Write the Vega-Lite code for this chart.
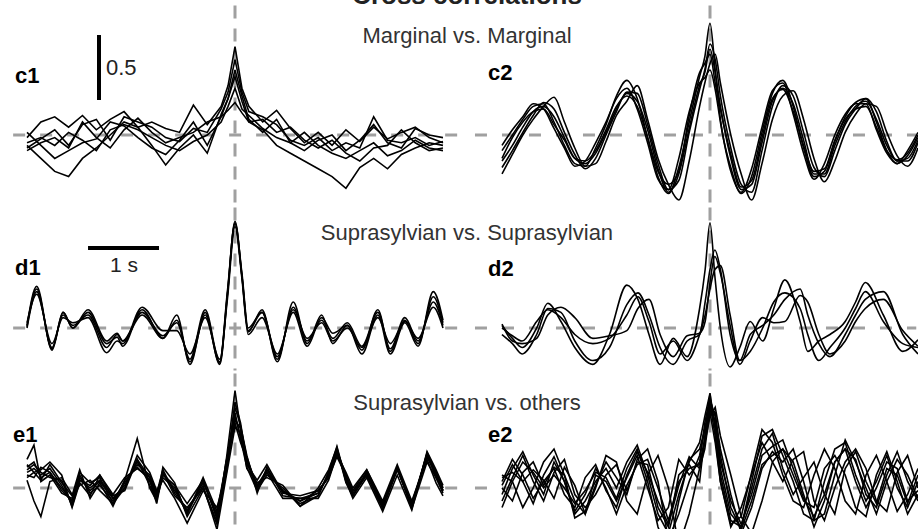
{
"$schema": "https://vega.github.io/schema/vega-lite/v6.json",
"padding": 0,
"spacing": 0,
"background": "white",
"config": {"view": {"stroke": null}, "axis": {"disable": true}, "font": "Liberation Sans"},
"datasets": {
"panels": [
{"panel":"top","label":"Cross correlations","row":"","bar":""},
{"panel":"c1","label":"c1","row":"Marginal vs. Marginal","bar":"0.5"},
{"panel":"c2","label":"c2","row":"","bar":""},
{"panel":"d1","label":"d1","row":"Suprasylvian vs. Suprasylvian","bar":"1 s"},
{"panel":"d2","label":"d2","row":"","bar":""},
{"panel":"e1","label":"e1","row":"Suprasylvian vs. others","bar":""},
{"panel":"e2","label":"e2","row":"","bar":""}
],
"c1": [
{"x":-3,"a":-0.02,"b":-0.1,"c":0.02,"d":-0.08,"e":-0.06,"f":-0.12},
{"x":-2.8,"a":0.1,"b":-0.03,"c":-0.08,"d":-0.18,"e":-0.02,"f":-0.06},
{"x":-2.6,"a":0.14,"b":0.04,"c":-0.18,"d":-0.28,"e":-0.08,"f":-0.02},
{"x":-2.4,"a":0.06,"b":-0.08,"c":-0.12,"d":-0.32,"e":0.02,"f":-0.1},
{"x":-2.2,"a":0.15,"b":0.08,"c":-0.06,"d":-0.18,"e":-0.04,"f":0.1},
{"x":-2,"a":0.04,"b":0.12,"c":-0.03,"d":-0.1,"e":-0.12,"f":-0.02},
{"x":-1.8,"a":0.12,"b":-0.04,"c":0.1,"d":0,"e":0.04,"f":-0.1},
{"x":-1.6,"a":0.18,"b":0.14,"c":0.07,"d":0.1,"e":0.08,"f":0.04},
{"x":-1.4,"a":0.06,"b":0.1,"c":-0.02,"d":0.06,"e":0.04,"f":0.13},
{"x":-1.2,"a":0.1,"b":0.06,"c":-0.1,"d":-0.08,"e":-0.02,"f":0.02},
{"x":-1,"a":0.05,"b":-0.02,"c":-0.15,"d":-0.23,"e":-0.08,"f":-0.06},
{"x":-0.8,"a":0.02,"b":-0.05,"c":-0.04,"d":-0.1,"e":-0.12,"f":-0.02},
{"x":-0.6,"a":0.23,"b":0.05,"c":0.1,"d":0,"e":-0.05,"f":0.02},
{"x":-0.4,"a":0.08,"b":0.02,"c":-0.08,"d":-0.14,"e":0,"f":0.1},
{"x":-0.2,"a":0.22,"b":0.2,"c":0.14,"d":0.16,"e":0.1,"f":0.14},
{"x":-0.1,"a":0.38,"b":0.33,"c":0.28,"d":0.28,"e":0.22,"f":0.19},
{"x":0,"a":0.68,"b":0.58,"c":0.5,"d":0.45,"e":0.36,"f":0.25},
{"x":0.1,"a":0.36,"b":0.33,"c":0.3,"d":0.26,"e":0.2,"f":0.17},
{"x":0.2,"a":0.22,"b":0.18,"c":0.12,"d":0.1,"e":0.15,"f":0.1},
{"x":0.4,"a":0.1,"b":0.14,"c":0.02,"d":0.04,"e":0.05,"f":0.12},
{"x":0.6,"a":0.19,"b":0.08,"c":0.12,"d":-0.08,"e":-0.02,"f":0.02},
{"x":0.8,"a":0.05,"b":-0.04,"c":-0.06,"d":-0.14,"e":-0.06,"f":0.06},
{"x":1,"a":-0.06,"b":-0.08,"c":-0.12,"d":-0.2,"e":0.02,"f":-0.04},
{"x":1.2,"a":0.02,"b":-0.02,"c":-0.04,"d":-0.26,"e":-0.08,"f":-0.1},
{"x":1.4,"a":-0.08,"b":-0.12,"c":0,"d":-0.32,"e":-0.14,"f":-0.04},
{"x":1.6,"a":0.04,"b":-0.06,"c":-0.12,"d":-0.41,"e":-0.18,"f":-0.14},
{"x":1.8,"a":-0.05,"b":-0.1,"c":-0.04,"d":-0.25,"e":-0.12,"f":-0.2},
{"x":2,"a":0.06,"b":0.14,"c":0.08,"d":-0.18,"e":-0.06,"f":-0.1},
{"x":2.2,"a":-0.03,"b":-0.04,"c":-0.06,"d":-0.26,"e":-0.16,"f":-0.08},
{"x":2.4,"a":0.02,"b":-0.06,"c":-0.1,"d":-0.15,"e":-0.12,"f":0.04},
{"x":2.6,"a":0.06,"b":-0.02,"c":0.05,"d":-0.1,"e":-0.04,"f":-0.06},
{"x":2.8,"a":-0.02,"b":-0.08,"c":0,"d":-0.06,"e":-0.1,"f":-0.12},
{"x":3,"a":-0.06,"b":-0.05,"c":-0.02,"d":-0.08,"e":-0.12,"f":-0.1}
],
"c2": [
{"x":-3,"a":-0.12,"b":-0.25,"c":-0.18,"d":-0.3,"e":-0.08,"f":-0.2},
{"x":-2.85,"a":0,"b":-0.12,"c":-0.02,"d":-0.15,"e":0.04,"f":-0.08},
{"x":-2.7,"a":0.12,"b":0.02,"c":0.1,"d":0,"e":0.14,"f":0.06},
{"x":-2.55,"a":0.22,"b":0.15,"c":0.18,"d":0.12,"e":0.24,"f":0.18},
{"x":-2.4,"a":0.24,"b":0.25,"c":0.2,"d":0.22,"e":0.2,"f":0.22},
{"x":-2.25,"a":0.1,"b":0.2,"c":0.08,"d":0.29,"e":0.05,"f":0.14},
{"x":-2.1,"a":-0.08,"b":0.02,"c":-0.04,"d":0.1,"e":-0.1,"f":-0.02},
{"x":-1.95,"a":-0.22,"b":-0.15,"c":-0.18,"d":-0.1,"e":-0.24,"f":-0.18},
{"x":-1.8,"a":-0.24,"b":-0.26,"c":-0.2,"d":-0.24,"e":-0.2,"f":-0.22},
{"x":-1.65,"a":-0.1,"b":-0.18,"c":-0.12,"d":-0.22,"e":-0.06,"f":-0.14},
{"x":-1.5,"a":0.08,"b":0,"c":0.04,"d":-0.05,"e":0.1,"f":0.02},
{"x":-1.35,"a":0.3,"b":0.18,"c":0.22,"d":0.15,"e":0.28,"f":0.2},
{"x":-1.2,"a":0.42,"b":0.33,"c":0.3,"d":0.26,"e":0.36,"f":0.32},
{"x":-1.05,"a":0.28,"b":0.32,"c":0.22,"d":0.38,"e":0.2,"f":0.26},
{"x":-0.9,"a":-0.02,"b":0.08,"c":-0.02,"d":0.12,"e":-0.06,"f":0.04},
{"x":-0.75,"a":-0.32,"b":-0.22,"c":-0.28,"d":-0.18,"e":-0.34,"f":-0.26},
{"x":-0.6,"a":-0.45,"b":-0.42,"c":-0.38,"d":-0.38,"e":-0.42,"f":-0.44},
{"x":-0.45,"a":-0.25,"b":-0.35,"c":-0.28,"d":-0.5,"e":-0.18,"f":-0.3},
{"x":-0.3,"a":0.1,"b":0.02,"c":0.15,"d":-0.2,"e":0.18,"f":0.05},
{"x":-0.15,"a":0.45,"b":0.35,"c":0.48,"d":0.22,"e":0.4,"f":0.38},
{"x":-0.075,"a":0.6,"b":0.5,"c":0.55,"d":0.4,"e":0.44,"f":0.48},
{"x":0,"a":0.86,"b":0.7,"c":0.62,"d":0.55,"e":0.5,"f":0.66},
{"x":0.075,"a":0.5,"b":0.58,"c":0.4,"d":0.62,"e":0.35,"f":0.48},
{"x":0.15,"a":0.12,"b":0.3,"c":0.2,"d":0.4,"e":0.1,"f":0.22},
{"x":0.3,"a":-0.25,"b":-0.1,"c":-0.15,"d":0,"e":-0.28,"f":-0.18},
{"x":0.45,"a":-0.45,"b":-0.38,"c":-0.4,"d":-0.3,"e":-0.44,"f":-0.42},
{"x":0.6,"a":-0.32,"b":-0.44,"c":-0.35,"d":-0.5,"e":-0.26,"f":-0.38},
{"x":0.75,"a":0.02,"b":-0.12,"c":-0.02,"d":-0.22,"e":0.06,"f":-0.06},
{"x":0.9,"a":0.32,"b":0.22,"c":0.28,"d":0.12,"e":0.34,"f":0.26},
{"x":1.05,"a":0.42,"b":0.38,"c":0.35,"d":0.3,"e":0.4,"f":0.36},
{"x":1.2,"a":0.22,"b":0.3,"c":0.18,"d":0.34,"e":0.16,"f":0.24},
{"x":1.35,"a":-0.1,"b":0.02,"c":-0.08,"d":0.12,"e":-0.14,"f":-0.04},
{"x":1.5,"a":-0.32,"b":-0.25,"c":-0.28,"d":-0.18,"e":-0.34,"f":-0.3},
{"x":1.65,"a":-0.28,"b":-0.32,"c":-0.26,"d":-0.36,"e":-0.22,"f":-0.3},
{"x":1.8,"a":-0.05,"b":-0.12,"c":-0.04,"d":-0.2,"e":0,"f":-0.08},
{"x":1.95,"a":0.14,"b":0.08,"c":0.12,"d":0.02,"e":0.16,"f":0.1},
{"x":2.1,"a":0.25,"b":0.2,"c":0.2,"d":0.16,"e":0.24,"f":0.22},
{"x":2.25,"a":0.28,"b":0.28,"c":0.22,"d":0.24,"e":0.24,"f":0.26},
{"x":2.4,"a":0.1,"b":0.18,"c":0.06,"d":0.22,"e":0.04,"f":0.12},
{"x":2.55,"a":-0.12,"b":-0.05,"c":-0.12,"d":0.02,"e":-0.14,"f":-0.08},
{"x":2.7,"a":-0.22,"b":-0.2,"c":-0.19,"d":-0.16,"e":-0.22,"f":-0.2},
{"x":2.85,"a":-0.16,"b":-0.2,"c":-0.14,"d":-0.24,"e":-0.12,"f":-0.18},
{"x":3,"a":-0.02,"b":-0.06,"c":0,"d":-0.1,"e":0.02,"f":-0.04}
],
"d1": [
{"x":-3,"a":0.02,"b":0,"c":0.04,"d":0.01},
{"x":-2.86,"a":0.32,"b":0.28,"c":0.26,"d":0.3},
{"x":-2.64,"a":-0.17,"b":-0.15,"c":-0.12,"d":-0.16},
{"x":-2.48,"a":0.12,"b":0.1,"c":0.08,"d":0.12},
{"x":-2.34,"a":0,"b":0.02,"c":0.04,"d":0},
{"x":-2.12,"a":0.12,"b":0.1,"c":0.08,"d":0.14},
{"x":-1.85,"a":-0.12,"b":-0.15,"c":-0.19,"d":-0.1},
{"x":-1.7,"a":-0.07,"b":-0.05,"c":-0.1,"d":-0.04},
{"x":-1.62,"a":-0.14,"b":-0.1,"c":-0.12,"d":-0.1},
{"x":-1.34,"a":0.14,"b":0.12,"c":0.16,"d":0.1},
{"x":-1.04,"a":-0.08,"b":-0.06,"c":-0.02,"d":-0.08},
{"x":-0.84,"a":0.1,"b":0.04,"c":-0.02,"d":0.06},
{"x":-0.65,"a":-0.28,"b":-0.24,"c":-0.2,"d":-0.26},
{"x":-0.43,"a":0.12,"b":0.14,"c":0.08,"d":0.1},
{"x":-0.22,"a":-0.28,"b":-0.26,"c":-0.24,"d":-0.27},
{"x":-0.11,"a":0.25,"b":0.28,"c":0.22,"d":0.26},
{"x":0,"a":0.82,"b":0.8,"c":0.78,"d":0.81},
{"x":0.1,"a":0.4,"b":0.42,"c":0.38,"d":0.4},
{"x":0.19,"a":-0.03,"b":0,"c":-0.05,"d":-0.02},
{"x":0.39,"a":0.14,"b":0.12,"c":0.08,"d":0.12},
{"x":0.61,"a":-0.26,"b":-0.24,"c":-0.2,"d":-0.22},
{"x":0.84,"a":0.2,"b":0.16,"c":0.12,"d":0.14},
{"x":1.04,"a":-0.12,"b":-0.1,"c":-0.14,"d":-0.08},
{"x":1.25,"a":0.1,"b":0.06,"c":0.08,"d":0.04},
{"x":1.41,"a":-0.12,"b":-0.08,"c":-0.04,"d":-0.1},
{"x":1.62,"a":0.02,"b":0.04,"c":0.02,"d":0},
{"x":1.83,"a":-0.17,"b":-0.14,"c":-0.2,"d":-0.15},
{"x":2.06,"a":0.14,"b":0.12,"c":0.1,"d":0.08},
{"x":2.24,"a":-0.18,"b":-0.16,"c":-0.2,"d":-0.12},
{"x":2.45,"a":0.06,"b":0.08,"c":0.04,"d":0.05},
{"x":2.64,"a":-0.12,"b":-0.1,"c":-0.14,"d":-0.08},
{"x":2.86,"a":0.24,"b":0.2,"c":0.28,"d":0.16},
{"x":3,"a":0.04,"b":0.02,"c":0.06,"d":0}
],
"d2": [
{"x":-3,"a":0.02,"b":-0.05,"c":0,"d":0.03},
{"x":-2.85,"a":-0.08,"b":-0.12,"c":-0.06,"d":-0.1},
{"x":-2.71,"a":-0.15,"b":-0.2,"c":-0.1,"d":-0.12},
{"x":-2.5,"a":0,"b":-0.05,"c":0.05,"d":-0.08},
{"x":-2.34,"a":0.19,"b":0.15,"c":0.14,"d":0.1},
{"x":-2.15,"a":0.05,"b":0.12,"c":0.08,"d":0.16},
{"x":-1.95,"a":-0.15,"b":-0.1,"c":-0.05,"d":0.08},
{"x":-1.69,"a":-0.28,"b":-0.25,"c":-0.12,"d":-0.08},
{"x":-1.45,"a":-0.05,"b":-0.15,"c":-0.08,"d":-0.06},
{"x":-1.2,"a":0.33,"b":0.18,"c":0.1,"d":-0.02},
{"x":-1.04,"a":0.22,"b":0.27,"c":0.24,"d":0.15},
{"x":-0.88,"a":-0.05,"b":0.1,"c":0.05,"d":0.22},
{"x":-0.72,"a":-0.28,"b":-0.15,"c":-0.2,"d":-0.05},
{"x":-0.53,"a":-0.08,"b":-0.28,"c":-0.1,"d":-0.22},
{"x":-0.33,"a":-0.22,"b":-0.1,"c":-0.25,"d":-0.06},
{"x":-0.15,"a":0.15,"b":-0.05,"c":-0.05,"d":-0.04},
{"x":-0.07,"a":0.45,"b":0.2,"c":0.1,"d":0.05},
{"x":0,"a":0.81,"b":0.45,"c":0.3,"d":0.35},
{"x":0.07,"a":0.4,"b":0.6,"c":0.45,"d":0.55},
{"x":0.15,"a":0,"b":0.45,"c":0.48,"d":0.42},
{"x":0.29,"a":-0.3,"b":-0.05,"c":0.1,"d":0.02},
{"x":0.43,"a":-0.15,"b":-0.25,"c":-0.25,"d":-0.28},
{"x":0.58,"a":0.05,"b":-0.18,"c":-0.05,"d":-0.1},
{"x":0.76,"a":-0.1,"b":0,"c":0.02,"d":0.08},
{"x":0.92,"a":0.15,"b":0.2,"c":0.1,"d":0.04},
{"x":1.08,"a":0.37,"b":0.27,"c":0.22,"d":0.05},
{"x":1.3,"a":0.05,"b":0.15,"c":0.3,"d":0.25},
{"x":1.41,"a":-0.18,"b":-0.05,"c":0.1,"d":0.2},
{"x":1.57,"a":-0.1,"b":-0.25,"c":-0.12,"d":-0.05},
{"x":1.73,"a":-0.05,"b":-0.15,"c":-0.22,"d":-0.2},
{"x":1.95,"a":0.05,"b":0,"c":-0.05,"d":-0.1},
{"x":2.1,"a":0.2,"b":0.15,"c":0.1,"d":0.05},
{"x":2.24,"a":0.35,"b":0.28,"c":0.22,"d":0.15},
{"x":2.5,"a":0.1,"b":0.05,"c":0.28,"d":0.22},
{"x":2.78,"a":-0.18,"b":-0.12,"c":-0.05,"d":-0.02},
{"x":3,"a":-0.09,"b":-0.15,"c":-0.2,"d":-0.14}
],
"e1": [
{"x":-3,"a":0.12,"b":0.22,"c":0.06,"d":0.18,"e":0.1,"f":0.14,"g":0.08,"h":0.16},
{"x":-2.9,"a":0.15,"b":0.33,"c":-0.1,"d":0.12,"e":0.08,"f":0.18,"g":0.12,"h":0.2},
{"x":-2.8,"a":0.1,"b":0.05,"c":-0.22,"d":0.14,"e":0.16,"f":0.12,"g":0.06,"h":0.08},
{"x":-2.67,"a":0.15,"b":0.1,"c":0.05,"d":0.2,"e":0.12,"f":0.08,"g":0.18,"h":0.12},
{"x":-2.5,"a":0.02,"b":-0.04,"c":0.08,"d":0.1,"e":-0.02,"f":0.06,"g":0.04,"h":0},
{"x":-2.35,"a":-0.12,"b":-0.08,"c":-0.05,"d":-0.15,"e":-0.1,"f":-0.14,"g":-0.06,"h":-0.1},
{"x":-2.24,"a":0.08,"b":0.12,"c":0.02,"d":0.04,"e":0.1,"f":0.06,"g":0.14,"h":0.06},
{"x":-2.09,"a":-0.02,"b":0.04,"c":0.06,"d":-0.06,"e":-0.04,"f":0,"g":-0.08,"h":0.02},
{"x":-1.95,"a":0.05,"b":0.08,"c":-0.02,"d":0.1,"e":0.02,"f":0.06,"g":0.04,"h":0.1},
{"x":-1.76,"a":-0.08,"b":-0.12,"c":-0.12,"d":-0.05,"e":-0.1,"f":-0.06,"g":-0.14,"h":-0.08},
{"x":-1.59,"a":0.02,"b":0.06,"c":0,"d":0.08,"e":0.04,"f":-0.02,"g":0.06,"h":0},
{"x":-1.41,"a":0.2,"b":0.38,"c":0.25,"d":0.15,"e":0.18,"f":0.22,"g":0.16,"h":0.22},
{"x":-1.23,"a":0.05,"b":0,"c":0.12,"d":0.08,"e":0.1,"f":0.02,"g":0.06,"h":0.08},
{"x":-1.13,"a":-0.06,"b":-0.1,"c":-0.02,"d":-0.08,"e":-0.04,"f":-0.08,"g":-0.12,"h":-0.04},
{"x":-1.04,"a":0.12,"b":0.16,"c":0.06,"d":0.1,"e":0.14,"f":0.08,"g":0.12,"h":0.1},
{"x":-0.87,"a":-0.02,"b":0.04,"c":-0.08,"d":0.02,"e":-0.04,"f":0,"g":-0.06,"h":0.02},
{"x":-0.69,"a":-0.17,"b":-0.22,"c":-0.27,"d":-0.12,"e":-0.18,"f":-0.2,"g":-0.15,"h":-0.2},
{"x":-0.46,"a":0.04,"b":0,"c":-0.02,"d":0.06,"e":0.02,"f":0.08,"g":0,"h":0.06},
{"x":-0.26,"a":-0.2,"b":-0.26,"c":-0.15,"d":-0.24,"e":-0.32,"f":-0.18,"g":-0.28,"h":-0.22},
{"x":-0.13,"a":0.15,"b":0.2,"c":0.1,"d":0.2,"e":0.08,"f":0.18,"g":0.12,"h":0.14},
{"x":0,"a":0.55,"b":0.75,"c":0.62,"d":0.5,"e":0.47,"f":0.58,"g":0.52,"h":0.66},
{"x":0.08,"a":0.4,"b":0.45,"c":0.48,"d":0.35,"e":0.42,"f":0.38,"g":0.46,"h":0.5},
{"x":0.17,"a":0.2,"b":0.15,"c":0.25,"d":0.22,"e":0.18,"f":0.16,"g":0.24,"h":0.2},
{"x":0.32,"a":0,"b":0.04,"c":-0.04,"d":0.02,"e":0.06,"f":-0.02,"g":0,"h":0.02},
{"x":0.46,"a":0.14,"b":0.08,"c":0.16,"d":0.12,"e":0.18,"f":0.1,"g":0.12,"h":0.14},
{"x":0.69,"a":-0.03,"b":0.02,"c":-0.06,"d":-0.02,"e":-0.04,"f":0,"g":-0.08,"h":-0.02},
{"x":0.94,"a":-0.1,"b":-0.14,"c":-0.08,"d":-0.12,"e":-0.06,"f":-0.14,"g":-0.08,"h":-0.1},
{"x":1.2,"a":-0.04,"b":0,"c":-0.08,"d":-0.06,"e":-0.02,"f":-0.06,"g":-0.04,"h":-0.02},
{"x":1.35,"a":0.1,"b":0.14,"c":0.06,"d":0.12,"e":0.08,"f":0.12,"g":0.1,"h":0.08},
{"x":1.47,"a":0.28,"b":0.31,"c":0.26,"d":0.3,"e":0.24,"f":0.32,"g":0.27,"h":0.29},
{"x":1.6,"a":0.08,"b":0.05,"c":0.12,"d":0.04,"e":0.1,"f":0.06,"g":0.08,"h":0.1},
{"x":1.7,"a":-0.04,"b":-0.08,"c":0,"d":-0.06,"e":-0.02,"f":-0.06,"g":-0.02,"h":-0.06},
{"x":1.9,"a":0.12,"b":0.08,"c":0.14,"d":0.1,"e":0.14,"f":0.12,"g":0.1,"h":0.12},
{"x":2.13,"a":-0.14,"b":-0.18,"c":-0.1,"d":-0.16,"e":-0.12,"f":-0.15,"g":-0.12,"h":-0.14},
{"x":2.34,"a":0.15,"b":0.1,"c":0.18,"d":0.14,"e":0.16,"f":0.14,"g":0.16,"h":0.16},
{"x":2.55,"a":-0.14,"b":-0.17,"c":-0.1,"d":-0.12,"e":-0.16,"f":-0.13,"g":-0.15,"h":-0.14},
{"x":2.77,"a":0.25,"b":0.28,"c":0.22,"d":0.26,"e":0.2,"f":0.24,"g":0.27,"h":0.26},
{"x":2.9,"a":0.1,"b":0.14,"c":0.04,"d":0.12,"e":0.08,"f":0.1,"g":0.12,"h":0.08},
{"x":3,"a":-0.02,"b":0.02,"c":-0.06,"d":0,"e":-0.04,"f":0,"g":-0.02,"h":-0.02}
],
"e2": [
{"x":-3,"a":-0.05,"b":0.05,"c":0,"d":0.1,"e":-0.1,"f":0.02,"g":-0.15,"h":0.08},
{"x":-2.85,"a":0.15,"b":0.22,"c":-0.1,"d":0.05,"e":0.08,"f":0.18,"g":0.05,"h":0.12},
{"x":-2.7,"a":0.28,"b":0.1,"c":0.12,"d":-0.15,"e":0.25,"f":0.05,"g":0.2,"h":0.05},
{"x":-2.55,"a":0.1,"b":-0.08,"c":0.2,"d":0,"e":0.05,"f":0.14,"g":0.12,"h":-0.12},
{"x":-2.4,"a":-0.05,"b":0.05,"c":0.02,"d":0.2,"e":-0.1,"f":0.06,"g":0,"h":0.1},
{"x":-2.25,"a":0.2,"b":0.15,"c":0.16,"d":0.3,"e":0.12,"f":-0.08,"g":0.1,"h":0.24},
{"x":-2.1,"a":0.05,"b":-0.05,"c":0.1,"d":0.1,"e":0.22,"f":0.16,"g":0,"h":0.05},
{"x":-1.95,"a":-0.2,"b":-0.15,"c":-0.23,"d":-0.1,"e":-0.05,"f":0.02,"g":-0.12,"h":-0.18},
{"x":-1.8,"a":-0.1,"b":0.08,"c":-0.18,"d":-0.2,"e":-0.15,"f":-0.2,"g":-0.02,"h":-0.05},
{"x":-1.65,"a":0.05,"b":0.18,"c":0.02,"d":0,"e":-0.05,"f":0.1,"g":0.12,"h":0.15},
{"x":-1.5,"a":0.15,"b":-0.02,"c":0.2,"d":0.25,"e":0.1,"f":0.05,"g":0.08,"h":0},
{"x":-1.35,"a":0,"b":-0.15,"c":0.08,"d":0.2,"e":0.18,"f":-0.1,"g":-0.08,"h":-0.2},
{"x":-1.2,"a":0.2,"b":0.1,"c":-0.05,"d":-0.1,"e":-0.02,"f":0.08,"g":0.15,"h":0.02},
{"x":-1.05,"a":0.33,"b":0.28,"c":0.22,"d":-0.2,"e":0.2,"f":0.25,"g":0.3,"h":0.18},
{"x":-0.9,"a":0.1,"b":0.12,"c":0.3,"d":0.1,"e":0.18,"f":0,"g":0.05,"h":0.22},
{"x":-0.75,"a":-0.2,"b":-0.1,"c":0.05,"d":0.25,"e":-0.15,"f":-0.25,"g":-0.3,"h":0},
{"x":-0.6,"a":-0.35,"b":-0.28,"c":-0.4,"d":0,"e":-0.3,"f":-0.15,"g":-0.5,"h":-0.25},
{"x":-0.45,"a":-0.05,"b":0.02,"c":-0.2,"d":-0.45,"e":0.1,"f":0.22,"g":-0.1,"h":0.05},
{"x":-0.3,"a":0.2,"b":0.24,"c":0.05,"d":-0.2,"e":0.18,"f":0.1,"g":0.22,"h":0.15},
{"x":-0.15,"a":0.35,"b":0.15,"c":0.25,"d":0.15,"e":0.05,"f":0.2,"g":0.3,"h":0.18},
{"x":-0.075,"a":0.55,"b":0.3,"c":0.45,"d":0.35,"e":0.4,"f":0.5,"g":0.45,"h":0.38},
{"x":0,"a":0.73,"b":0.6,"c":0.68,"d":0.55,"e":0.65,"f":0.7,"g":0.58,"h":0.62},
{"x":0.075,"a":0.45,"b":0.52,"c":0.55,"d":0.62,"e":0.4,"f":0.48,"g":0.35,"h":0.58},
{"x":0.15,"a":0.1,"b":0.2,"c":0.3,"d":0.4,"e":0.05,"f":0.15,"g":0.05,"h":0.25},
{"x":0.3,"a":-0.25,"b":-0.1,"c":-0.05,"d":0.1,"e":-0.3,"f":-0.2,"g":-0.28,"h":-0.15},
{"x":0.45,"a":-0.3,"b":-0.28,"c":-0.35,"d":-0.22,"e":-0.15,"f":-0.3,"g":-0.22,"h":-0.32},
{"x":0.6,"a":0.05,"b":-0.05,"c":-0.15,"d":-0.35,"e":0.1,"f":0,"g":0.12,"h":-0.1},
{"x":0.75,"a":0.4,"b":0.25,"c":0.15,"d":-0.1,"e":0.35,"f":0.3,"g":0.45,"h":0.18},
{"x":0.9,"a":0.45,"b":0.32,"c":0.28,"d":0.2,"e":0.2,"f":0.42,"g":0.35,"h":0.25},
{"x":1.05,"a":0.25,"b":0.37,"c":0.2,"d":0.3,"e":0.05,"f":0.15,"g":0.1,"h":0.3},
{"x":1.2,"a":0.05,"b":0.15,"c":0.3,"d":0.1,"e":0.22,"f":-0.05,"g":-0.1,"h":0.2},
{"x":1.35,"a":-0.2,"b":-0.08,"c":0.05,"d":-0.1,"e":0.28,"f":0.08,"g":-0.15,"h":-0.05},
{"x":1.5,"a":-0.25,"b":-0.22,"c":-0.25,"d":-0.15,"e":-0.1,"f":0.2,"g":0.1,"h":-0.3},
{"x":1.65,"a":0.05,"b":-0.05,"c":-0.2,"d":0.15,"e":-0.25,"f":-0.05,"g":0.3,"h":-0.1},
{"x":1.8,"a":0.3,"b":0.2,"c":0.1,"d":0.25,"e":0,"f":-0.2,"g":0.15,"h":0.2},
{"x":1.95,"a":0.35,"b":0.3,"c":0.37,"d":0.1,"e":0.2,"f":0.15,"g":-0.1,"h":0.3},
{"x":2.1,"a":0.1,"b":0.22,"c":0.2,"d":-0.15,"e":0.3,"f":0.28,"g":-0.2,"h":0.05},
{"x":2.25,"a":-0.1,"b":-0.05,"c":0,"d":-0.22,"e":0.15,"f":0.05,"g":0.1,"h":-0.15},
{"x":2.4,"a":0.05,"b":-0.15,"c":-0.2,"d":0.1,"e":-0.1,"f":-0.12,"g":0.25,"h":0},
{"x":2.55,"a":0.25,"b":0.1,"c":0.05,"d":0.28,"e":-0.18,"f":0.15,"g":0.05,"h":0.2},
{"x":2.7,"a":0,"b":0.28,"c":0.22,"d":0.05,"e":0.12,"f":0.1,"g":-0.18,"h":0.15},
{"x":2.85,"a":-0.15,"b":0.05,"c":0.1,"d":-0.2,"e":0.25,"f":-0.12,"g":-0.05,"h":-0.1},
{"x":3,"a":0.05,"b":-0.1,"c":-0.08,"d":-0.05,"e":0,"f":0.1,"g":0.15,"h":-0.02}
]
},
"vconcat": [
{"width": 918, "height": 4,
 "data": {"name": "panels"}, "transform": [{"filter": "datum.panel == 'top'"}],
 "mark": {"type": "text", "fontSize": 26, "fontWeight": "bold", "align": "center", "baseline": "alphabetic", "clip": true, "color": "#222"},
 "encoding": {"text": {"field": "label"},
              "x": {"datum": 3.346, "type": "quantitative", "scale": {"domain": [-3.3896, 9.8513], "nice": false}},
              "y": {"datum": 0, "type": "quantitative", "scale": {"domain": [0, 1], "nice": false}}}},
{"hconcat": [
 {"width": 472, "height": 202, "data": {"name": "panels"}, "transform": [{"filter": "datum.panel == 'c1'"}], "layer": [
  {"mark": {"type": "rule", "color": "#a0a0a0", "strokeWidth": 3, "strokeDash": [13, 10]}, "encoding": {"x": {"datum": 0, "type": "quantitative", "scale": {"domain": [-3.3896, 3.4184], "nice": false}}, "y": {"datum": 0.9961, "type": "quantitative", "scale": {"domain": [-0.5462, 1.0077], "nice": false}}, "y2": {"datum": -0.5346}}},
  {"mark": {"type": "rule", "color": "#a0a0a0", "strokeWidth": 3, "strokeDash": [12, 15]}, "encoding": {"x": {"datum": -3.2, "type": "quantitative", "scale": {"domain": [-3.3896, 3.4184], "nice": false}}, "x2": {"datum": 3.22}, "y": {"datum": 0, "type": "quantitative", "scale": {"domain": [-0.5462, 1.0077], "nice": false}}}},
  {"data": {"name": "c1"}, "transform": [{"fold": ["a","b","c","d","e","f"], "as": ["tr","v"]}],
   "mark": {"type": "line", "color": "#000", "strokeWidth": 1.6, "clip": true},
   "encoding": {"x": {"field": "x", "type": "quantitative", "scale": {"domain": [-3.3896, 3.4184], "nice": false}}, "y": {"field": "v", "type": "quantitative", "scale": {"domain": [-0.5462, 1.0077], "nice": false}}, "detail": {"field": "tr"}}},
  {"mark": {"type": "rule", "color": "#000", "strokeWidth": 4}, "encoding": {"x": {"datum": -1.962, "type": "quantitative", "scale": {"domain": [-3.3896, 3.4184], "nice": false}}, "y": {"datum": 0.7692, "type": "quantitative", "scale": {"domain": [-0.5462, 1.0077], "nice": false}}, "y2": {"datum": 0.2692}}},
  {"mark": {"type": "text", "fontSize": 22, "align": "left", "baseline": "alphabetic", "color": "#222"}, "encoding": {"text": {"field": "bar"}, "x": {"datum": -1.861, "type": "quantitative", "scale": {"domain": [-3.3896, 3.4184], "nice": false}}, "y": {"datum": 0.4615, "type": "quantitative", "scale": {"domain": [-0.5462, 1.0077], "nice": false}}}},
  {"mark": {"type": "text", "fontSize": 22, "fontWeight": "bold", "align": "left", "baseline": "alphabetic", "color": "#000"}, "encoding": {"text": {"field": "label"}, "x": {"datum": -3.173, "type": "quantitative", "scale": {"domain": [-3.3896, 3.4184], "nice": false}}, "y": {"datum": 0.4, "type": "quantitative", "scale": {"domain": [-0.5462, 1.0077], "nice": false}}}},
  {"mark": {"type": "text", "fontSize": 22, "align": "center", "baseline": "alphabetic", "color": "#333"}, "encoding": {"text": {"field": "row"}, "x": {"datum": 3.346, "type": "quantitative", "scale": {"domain": [-3.3896, 3.4184], "nice": false}}, "y": {"datum": 0.7077, "type": "quantitative", "scale": {"domain": [-0.5462, 1.0077], "nice": false}}}}
 ]},
 {"width": 446, "height": 202, "data": {"name": "panels"}, "transform": [{"filter": "datum.panel == 'c2'"}], "layer": [
  {"mark": {"type": "rule", "color": "#a0a0a0", "strokeWidth": 3, "strokeDash": [13, 10]}, "encoding": {"x": {"datum": 0, "type": "quantitative", "scale": {"domain": [-3.4329, 3.0001], "nice": false}}, "y": {"datum": 0.9961, "type": "quantitative", "scale": {"domain": [-0.5462, 1.0077], "nice": false}}, "y2": {"datum": -0.5346}}},
  {"mark": {"type": "rule", "color": "#a0a0a0", "strokeWidth": 3, "strokeDash": [12, 15]}, "encoding": {"x": {"datum": -3.39, "type": "quantitative", "scale": {"domain": [-3.4329, 3.0001], "nice": false}}, "x2": {"datum": 2.975}, "y": {"datum": 0, "type": "quantitative", "scale": {"domain": [-0.5462, 1.0077], "nice": false}}}},
  {"data": {"name": "c2"}, "transform": [{"fold": ["a","b","c","d","e","f"], "as": ["tr","v"]}],
   "mark": {"type": "line", "color": "#000", "strokeWidth": 1.6, "clip": true, "interpolate": "monotone"},
   "encoding": {"x": {"field": "x", "type": "quantitative", "scale": {"domain": [-3.4329, 3.0001], "nice": false}}, "y": {"field": "v", "type": "quantitative", "scale": {"domain": [-0.5462, 1.0077], "nice": false}}, "detail": {"field": "tr"}}},
  {"mark": {"type": "text", "fontSize": 22, "fontWeight": "bold", "align": "left", "baseline": "alphabetic", "color": "#000"}, "encoding": {"text": {"field": "label"}, "x": {"datum": -3.202, "type": "quantitative", "scale": {"domain": [-3.4329, 3.0001], "nice": false}}, "y": {"datum": 0.423, "type": "quantitative", "scale": {"domain": [-0.5462, 1.0077], "nice": false}}}}
 ]}
], "spacing": 0, "bounds": "flush"},
{"hconcat": [
 {"width": 472, "height": 166, "data": {"name": "panels"}, "transform": [{"filter": "datum.panel == 'd1'"}], "layer": [
  {"mark": {"type": "rule", "color": "#a0a0a0", "strokeWidth": 3, "strokeDash": [13, 10]}, "encoding": {"x": {"datum": 0, "type": "quantitative", "scale": {"domain": [-3.3896, 3.4184], "nice": false}}, "y": {"datum": 0.9269, "type": "quantitative", "scale": {"domain": [-0.3385, 0.9385], "nice": false}}, "y2": {"datum": -0.3269}}},
  {"mark": {"type": "rule", "color": "#a0a0a0", "strokeWidth": 3, "strokeDash": [12, 15]}, "encoding": {"x": {"datum": -3.2, "type": "quantitative", "scale": {"domain": [-3.3896, 3.4184], "nice": false}}, "x2": {"datum": 3.22}, "y": {"datum": 0, "type": "quantitative", "scale": {"domain": [-0.3385, 0.9385], "nice": false}}}},
  {"data": {"name": "d1"}, "transform": [{"fold": ["a","b","c","d"], "as": ["tr","v"]}],
   "mark": {"type": "line", "color": "#000", "strokeWidth": 1.6, "clip": true, "interpolate": "monotone"},
   "encoding": {"x": {"field": "x", "type": "quantitative", "scale": {"domain": [-3.3896, 3.4184], "nice": false}}, "y": {"field": "v", "type": "quantitative", "scale": {"domain": [-0.3385, 0.9385], "nice": false}}, "detail": {"field": "tr"}}},
  {"mark": {"type": "rule", "color": "#000", "strokeWidth": 4}, "encoding": {"x": {"datum": -2.12, "type": "quantitative", "scale": {"domain": [-3.3896, 3.4184], "nice": false}}, "x2": {"datum": -1.096}, "y": {"datum": 0.6154, "type": "quantitative", "scale": {"domain": [-0.3385, 0.9385], "nice": false}}}},
  {"mark": {"type": "text", "fontSize": 21, "align": "center", "baseline": "alphabetic", "color": "#222"}, "encoding": {"text": {"field": "bar"}, "x": {"datum": -1.601, "type": "quantitative", "scale": {"domain": [-3.3896, 3.4184], "nice": false}}, "y": {"datum": 0.4308, "type": "quantitative", "scale": {"domain": [-0.3385, 0.9385], "nice": false}}}},
  {"mark": {"type": "text", "fontSize": 22, "fontWeight": "bold", "align": "left", "baseline": "alphabetic", "color": "#000"}, "encoding": {"text": {"field": "label"}, "x": {"datum": -3.173, "type": "quantitative", "scale": {"domain": [-3.3896, 3.4184], "nice": false}}, "y": {"datum": 0.4077, "type": "quantitative", "scale": {"domain": [-0.3385, 0.9385], "nice": false}}}},
  {"mark": {"type": "text", "fontSize": 22, "align": "center", "baseline": "alphabetic", "color": "#333"}, "encoding": {"text": {"field": "row"}, "x": {"datum": 3.346, "type": "quantitative", "scale": {"domain": [-3.3896, 3.4184], "nice": false}}, "y": {"datum": 0.6769, "type": "quantitative", "scale": {"domain": [-0.3385, 0.9385], "nice": false}}}}
 ]},
 {"width": 446, "height": 166, "data": {"name": "panels"}, "transform": [{"filter": "datum.panel == 'd2'"}], "layer": [
  {"mark": {"type": "rule", "color": "#a0a0a0", "strokeWidth": 3, "strokeDash": [13, 10]}, "encoding": {"x": {"datum": 0, "type": "quantitative", "scale": {"domain": [-3.4329, 3.0001], "nice": false}}, "y": {"datum": 0.9269, "type": "quantitative", "scale": {"domain": [-0.3385, 0.9385], "nice": false}}, "y2": {"datum": -0.3269}}},
  {"mark": {"type": "rule", "color": "#a0a0a0", "strokeWidth": 3, "strokeDash": [12, 15]}, "encoding": {"x": {"datum": -3.39, "type": "quantitative", "scale": {"domain": [-3.4329, 3.0001], "nice": false}}, "x2": {"datum": 2.975}, "y": {"datum": 0, "type": "quantitative", "scale": {"domain": [-0.3385, 0.9385], "nice": false}}}},
  {"data": {"name": "d2"}, "transform": [{"fold": ["a","b","c","d"], "as": ["tr","v"]}],
   "mark": {"type": "line", "color": "#000", "strokeWidth": 1.6, "clip": true, "interpolate": "monotone"},
   "encoding": {"x": {"field": "x", "type": "quantitative", "scale": {"domain": [-3.4329, 3.0001], "nice": false}}, "y": {"field": "v", "type": "quantitative", "scale": {"domain": [-0.3385, 0.9385], "nice": false}}, "detail": {"field": "tr"}}},
  {"mark": {"type": "text", "fontSize": 22, "fontWeight": "bold", "align": "left", "baseline": "alphabetic", "color": "#000"}, "encoding": {"text": {"field": "label"}, "x": {"datum": -3.202, "type": "quantitative", "scale": {"domain": [-3.4329, 3.0001], "nice": false}}, "y": {"datum": 0.4, "type": "quantitative", "scale": {"domain": [-0.3385, 0.9385], "nice": false}}}}
 ]}
], "spacing": 0, "bounds": "flush"},
{"hconcat": [
 {"width": 472, "height": 157, "data": {"name": "panels"}, "transform": [{"filter": "datum.panel == 'e1'"}], "layer": [
  {"mark": {"type": "rule", "color": "#a0a0a0", "strokeWidth": 3, "strokeDash": [13, 10]}, "encoding": {"x": {"datum": 0, "type": "quantitative", "scale": {"domain": [-3.3896, 3.4184], "nice": false}}, "y": {"datum": 0.8807, "type": "quantitative", "scale": {"domain": [-0.3154, 0.8923], "nice": false}}, "y2": {"datum": -0.3038}}},
  {"mark": {"type": "rule", "color": "#a0a0a0", "strokeWidth": 3, "strokeDash": [12, 15]}, "encoding": {"x": {"datum": -3.2, "type": "quantitative", "scale": {"domain": [-3.3896, 3.4184], "nice": false}}, "x2": {"datum": 3.22}, "y": {"datum": 0, "type": "quantitative", "scale": {"domain": [-0.3154, 0.8923], "nice": false}}}},
  {"data": {"name": "e1"}, "transform": [{"fold": ["a","b","c","d","e","f","g","h"], "as": ["tr","v"]}],
   "mark": {"type": "line", "color": "#000", "strokeWidth": 1.6, "clip": true},
   "encoding": {"x": {"field": "x", "type": "quantitative", "scale": {"domain": [-3.3896, 3.4184], "nice": false}}, "y": {"field": "v", "type": "quantitative", "scale": {"domain": [-0.3154, 0.8923], "nice": false}}, "detail": {"field": "tr"}}},
  {"mark": {"type": "text", "fontSize": 22, "fontWeight": "bold", "align": "left", "baseline": "alphabetic", "color": "#000"}, "encoding": {"text": {"field": "label"}, "x": {"datum": -3.202, "type": "quantitative", "scale": {"domain": [-3.3896, 3.4184], "nice": false}}, "y": {"datum": 0.3538, "type": "quantitative", "scale": {"domain": [-0.3154, 0.8923], "nice": false}}}},
  {"mark": {"type": "text", "fontSize": 22, "align": "center", "baseline": "alphabetic", "color": "#333"}, "encoding": {"text": {"field": "row"}, "x": {"datum": 3.346, "type": "quantitative", "scale": {"domain": [-3.3896, 3.4184], "nice": false}}, "y": {"datum": 0.6, "type": "quantitative", "scale": {"domain": [-0.3154, 0.8923], "nice": false}}}}
 ]},
 {"width": 446, "height": 157, "data": {"name": "panels"}, "transform": [{"filter": "datum.panel == 'e2'"}], "layer": [
  {"mark": {"type": "rule", "color": "#a0a0a0", "strokeWidth": 3, "strokeDash": [13, 10]}, "encoding": {"x": {"datum": 0, "type": "quantitative", "scale": {"domain": [-3.4329, 3.0001], "nice": false}}, "y": {"datum": 0.8807, "type": "quantitative", "scale": {"domain": [-0.3154, 0.8923], "nice": false}}, "y2": {"datum": -0.3038}}},
  {"mark": {"type": "rule", "color": "#a0a0a0", "strokeWidth": 3, "strokeDash": [12, 15]}, "encoding": {"x": {"datum": -3.39, "type": "quantitative", "scale": {"domain": [-3.4329, 3.0001], "nice": false}}, "x2": {"datum": 2.975}, "y": {"datum": 0, "type": "quantitative", "scale": {"domain": [-0.3154, 0.8923], "nice": false}}}},
  {"data": {"name": "e2"}, "transform": [{"fold": ["a","b","c","d","e","f","g","h"], "as": ["tr","v"]}],
   "mark": {"type": "line", "color": "#000", "strokeWidth": 1.6, "clip": true},
   "encoding": {"x": {"field": "x", "type": "quantitative", "scale": {"domain": [-3.4329, 3.0001], "nice": false}}, "y": {"field": "v", "type": "quantitative", "scale": {"domain": [-0.3154, 0.8923], "nice": false}}, "detail": {"field": "tr"}}},
  {"mark": {"type": "text", "fontSize": 22, "fontWeight": "bold", "align": "left", "baseline": "alphabetic", "color": "#000"}, "encoding": {"text": {"field": "label"}, "x": {"datum": -3.202, "type": "quantitative", "scale": {"domain": [-3.4329, 3.0001], "nice": false}}, "y": {"datum": 0.3538, "type": "quantitative", "scale": {"domain": [-0.3154, 0.8923], "nice": false}}}}
 ]}
], "spacing": 0, "bounds": "flush"}
]
}
